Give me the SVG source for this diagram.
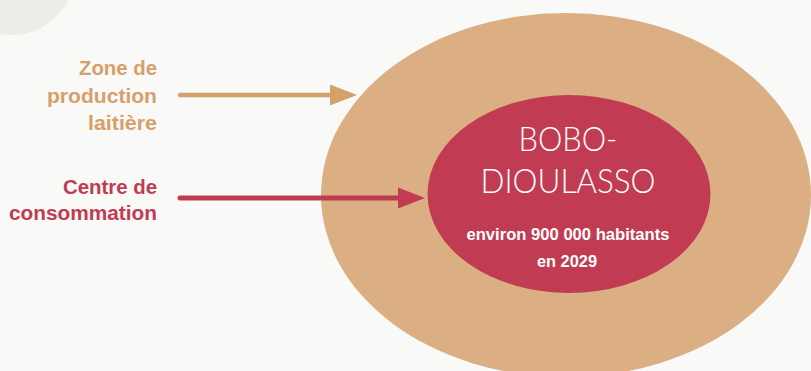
<svg xmlns="http://www.w3.org/2000/svg" width="811" height="371" viewBox="0 0 811 371">
  <defs>
    <style>
      .lbl { font-family: "Liberation Sans", Arial, sans-serif; font-weight: bold; font-size: 21px; text-anchor: end; }
      .orange { fill: #D6A06A; }
      .red { fill: #C13B53; }
      .title { font-family: "Lato", "Open Sans", "DejaVu Sans", sans-serif; font-weight: 300; font-size: 34px; fill: #FFFFFF; text-anchor: middle; }
      .sub { font-family: "Liberation Sans", Arial, sans-serif; font-weight: bold; font-size: 17px; fill: #FFFFFF; text-anchor: middle; }
      .conn { fill: none; stroke-linecap: round; }
    </style>
    <marker id="headO" markerUnits="userSpaceOnUse" markerWidth="27" markerHeight="21" refX="3" refY="10.5" orient="auto" overflow="visible">
      <path d="M0,0 L27,10.5 L0,21 Z" fill="#D6A06A"/>
    </marker>
    <marker id="headR" markerUnits="userSpaceOnUse" markerWidth="27" markerHeight="21" refX="3" refY="10.5" orient="auto" overflow="visible">
      <path d="M0,0 L27,10.5 L0,21 Z" fill="#C13B53"/>
    </marker>
  </defs>
  <rect x="0" y="0" width="811" height="371" fill="#F9F9F7"/>
  <circle cx="12" cy="-28" r="63" fill="#EDEDE8"/>

  <g id="zone-production">
    <ellipse cx="566" cy="195" rx="245" ry="182" fill="#DBAF83"/>
  </g>

  <g id="bobo-dioulasso">
    <ellipse cx="569" cy="194" rx="141.5" ry="99" fill="#C13B53"/>
    <text class="title" x="568" y="151" textLength="99" lengthAdjust="spacingAndGlyphs">BOBO-</text>
    <text class="title" x="568" y="193" textLength="175" lengthAdjust="spacingAndGlyphs">DIOULASSO</text>
    <text class="sub" x="568" y="240" textLength="203" lengthAdjust="spacingAndGlyphs">environ 900 000 habitants</text>
    <text class="sub" x="567" y="267" textLength="60" lengthAdjust="spacingAndGlyphs">en 2029</text>
  </g>

  <g id="label-zone">
    <text class="lbl orange" x="157" y="75" textLength="78" lengthAdjust="spacingAndGlyphs">Zone de</text>
    <text class="lbl orange" x="157" y="103" textLength="110" lengthAdjust="spacingAndGlyphs">production</text>
    <text class="lbl orange" x="157" y="130" textLength="69" lengthAdjust="spacingAndGlyphs">laitière</text>
  </g>

  <g id="label-centre">
    <text class="lbl red" x="157" y="194" textLength="94" lengthAdjust="spacingAndGlyphs">Centre de</text>
    <text class="lbl red" x="157" y="220" textLength="148" lengthAdjust="spacingAndGlyphs">consommation</text>
  </g>

  <g id="connectors">
    <path class="conn" d="M180,95 L333,95" stroke="#D6A06A" stroke-width="4.5" marker-end="url(#headO)"/>
    <path class="conn" d="M180,198 L401,198" stroke="#C13B53" stroke-width="5" marker-end="url(#headR)"/>
  </g>
</svg>
